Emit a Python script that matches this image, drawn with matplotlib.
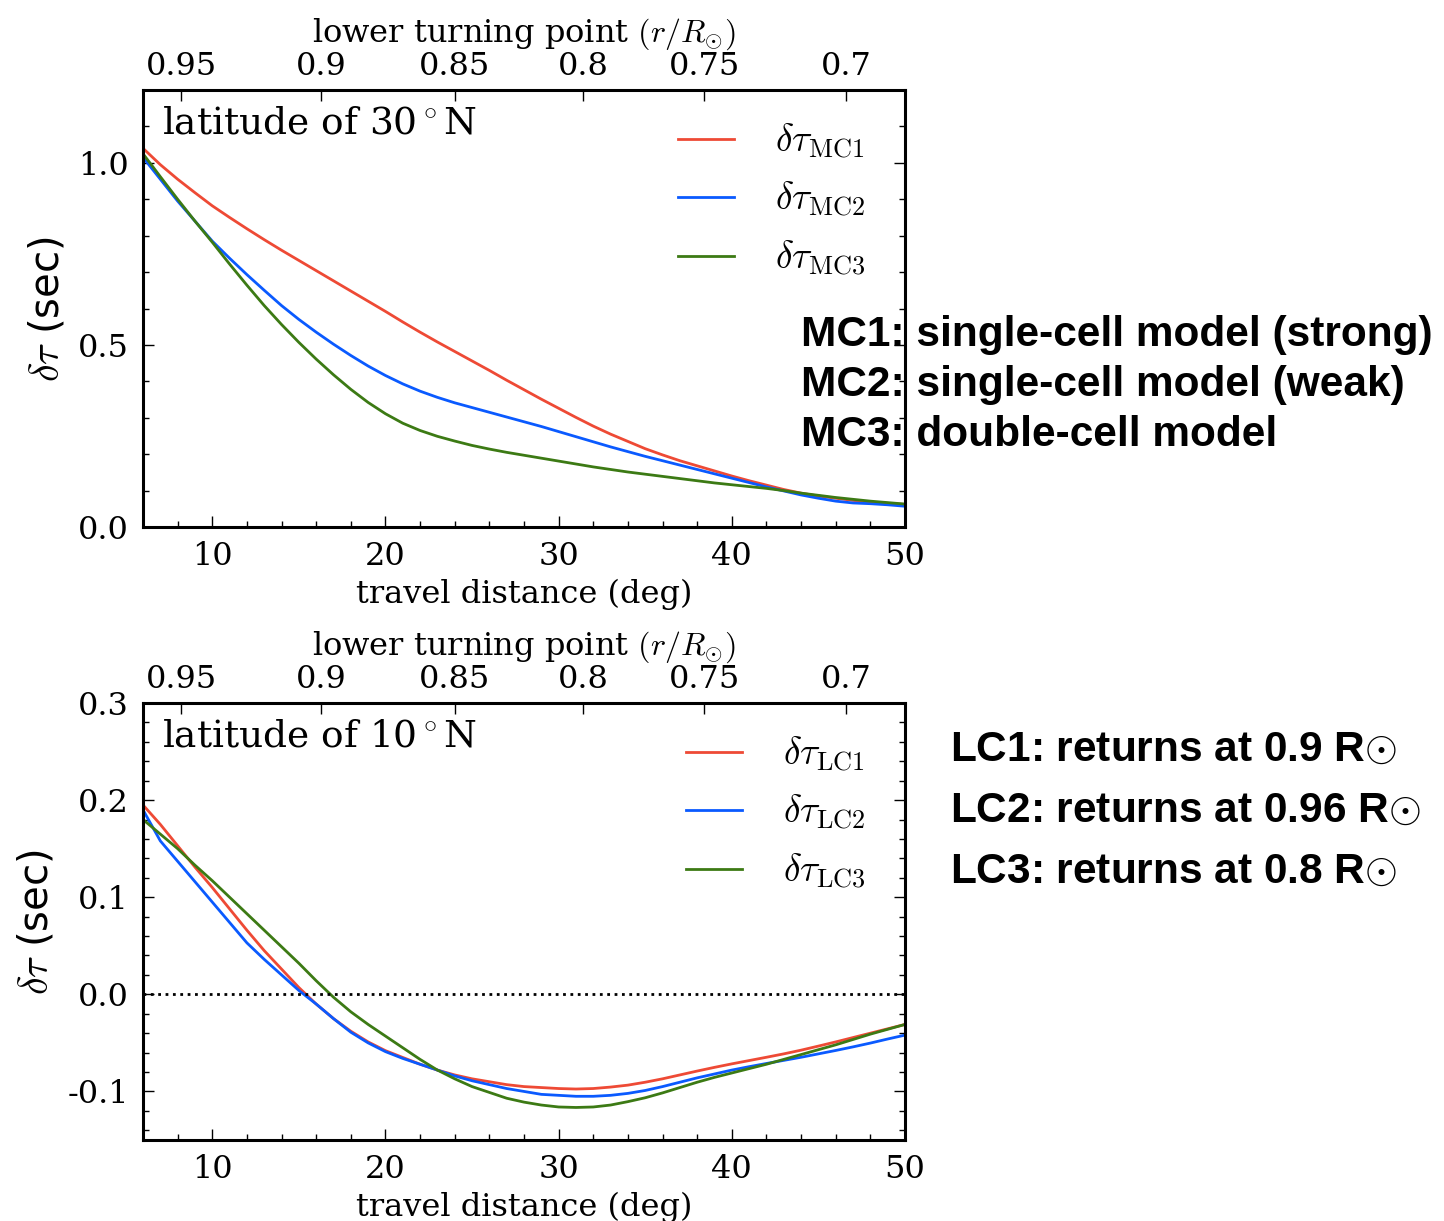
import matplotlib
matplotlib.use("Agg")
import matplotlib.pyplot as plt
from matplotlib.ticker import MultipleLocator

# Travel distance sample points (deg), one per degree
dist = list(range(6, 51))

# Travel-time differences at latitude 30N (sec)
tau_mc1 = [1.040, 0.995, 0.955, 0.918, 0.882, 0.850, 0.819, 0.789, 0.760, 0.732,
           0.704, 0.676, 0.648, 0.620, 0.592, 0.563, 0.535, 0.508, 0.482, 0.456,
           0.430, 0.403, 0.377, 0.351, 0.326, 0.301, 0.277, 0.255, 0.235, 0.215,
           0.198, 0.182, 0.168, 0.154, 0.140, 0.127, 0.115, 0.103, 0.093, 0.085,
           0.079, 0.073, 0.068, 0.065, 0.062]
tau_mc2 = [1.015, 0.955, 0.895, 0.840, 0.785, 0.738, 0.693, 0.650, 0.608, 0.570,
           0.535, 0.502, 0.471, 0.442, 0.416, 0.393, 0.373, 0.356, 0.341, 0.328,
           0.315, 0.302, 0.289, 0.276, 0.262, 0.248, 0.234, 0.220, 0.207, 0.194,
           0.182, 0.170, 0.158, 0.146, 0.134, 0.122, 0.110, 0.099, 0.088, 0.079,
           0.071, 0.066, 0.064, 0.061, 0.057]
tau_mc3 = [1.025, 0.962, 0.900, 0.840, 0.782, 0.722, 0.664, 0.608, 0.556, 0.507,
           0.461, 0.418, 0.378, 0.342, 0.311, 0.285, 0.265, 0.249, 0.236, 0.224,
           0.214, 0.205, 0.197, 0.189, 0.181, 0.173, 0.165, 0.158, 0.151, 0.145,
           0.139, 0.133, 0.127, 0.121, 0.116, 0.111, 0.106, 0.100, 0.093, 0.087,
           0.081, 0.076, 0.071, 0.067, 0.063]

# Travel-time differences at latitude 10N (sec)
tau_lc1 = [0.195, 0.175, 0.153, 0.131, 0.110, 0.088, 0.066, 0.045, 0.026, 0.007,
           -0.010, -0.025, -0.038, -0.049, -0.058, -0.065, -0.072, -0.078, -0.083,
           -0.087, -0.090, -0.093, -0.095, -0.096, -0.097, -0.0975, -0.097, -0.0955,
           -0.0935, -0.0905, -0.087, -0.083, -0.079, -0.0752, -0.0716, -0.0682,
           -0.0648, -0.0613, -0.0575, -0.0533, -0.049, -0.0445, -0.040, -0.0355,
           -0.031]
tau_lc2 = [0.190, 0.158, 0.137, 0.116, 0.095, 0.074, 0.053, 0.036, 0.020, 0.004,
           -0.010, -0.025, -0.039, -0.050, -0.059, -0.066, -0.072, -0.078, -0.084,
           -0.089, -0.093, -0.097, -0.100, -0.103, -0.104, -0.105, -0.105, -0.104,
           -0.102, -0.099, -0.095, -0.0905, -0.086, -0.082, -0.078, -0.0745,
           -0.0712, -0.068, -0.0648, -0.0613, -0.0578, -0.0541, -0.0502, -0.046,
           -0.042]
tau_lc3 = [0.180, 0.165, 0.150, 0.133, 0.117, 0.100, 0.083, 0.066, 0.049, 0.032,
           0.014, -0.003, -0.018, -0.031, -0.043, -0.055, -0.067, -0.078, -0.087,
           -0.095, -0.101, -0.107, -0.111, -0.114, -0.116, -0.1165, -0.116, -0.114,
           -0.1105, -0.1065, -0.1015, -0.096, -0.0905, -0.0855, -0.081, -0.0765,
           -0.072, -0.067, -0.062, -0.057, -0.052, -0.0465, -0.041, -0.036, -0.031]

# Lower turning point axis (position in deg -> r/Rsun label)
turning_deg = [8.2, 16.3, 24.0, 31.4, 38.4, 46.6]
turning_labels = ["0.95", "0.9", "0.85", "0.8", "0.75", "0.7"]

mc_notes = ["MC1: single-cell model (strong)",
            "MC2: single-cell model (weak)",
            "MC3: double-cell model"]
lc_notes = [r"LC1: returns at 0.9 R$\odot$",
            r"LC2: returns at 0.96 R$\odot$",
            r"LC3: returns at 0.8 R$\odot$"]

colors = ["#EE4A35", "#0A5AFF", "#3C7A14"]

plt.rcParams["font.family"] = "DejaVu Serif"
plt.rcParams["mathtext.fontset"] = "cm"
plt.rcParams["axes.unicode_minus"] = False

fig = plt.figure(figsize=(14.44, 12.21), dpi=100)
W, H = 1444.0, 1221.0


def make_axes(top_px, bottom_px):
    return fig.add_axes([143 / W, 1 - bottom_px / H, 762 / W, (bottom_px - top_px) / H])


def style_axes(ax, ymajor, yminor):
    ax.set_xlim(6, 50)
    ax.xaxis.set_major_locator(MultipleLocator(10))
    ax.xaxis.set_minor_locator(MultipleLocator(2))
    ax.yaxis.set_major_locator(MultipleLocator(ymajor))
    ax.yaxis.set_minor_locator(MultipleLocator(yminor))
    ax.tick_params(which="both", direction="in", top=False, right=True,
                   labelsize=23, width=1.0)
    ax.tick_params(which="major", length=8, pad=10)
    ax.tick_params(which="minor", length=4)
    for sp in ax.spines.values():
        sp.set_linewidth(2.2)
    ax.set_xlabel("travel distance (deg)", fontsize=23, labelpad=5)
    ax.set_ylabel(r"$\delta\tau$ (sec)", fontsize=29, family="DejaVu Sans",
                  labelpad=8)

    top = ax.twiny()
    top.set_xlim(ax.get_xlim())
    top.set_xticks(turning_deg)
    top.set_xticklabels(turning_labels)
    top.tick_params(direction="in", length=8, width=1.0, labelsize=23, pad=5.5)
    top.set_xlabel(r"lower turning point $(r/R_{\odot})$", fontsize=23,
                   labelpad=7)
    return top


legend_opts = dict(loc="upper right", bbox_to_anchor=(0.99, 1.0), frameon=False,
                   fontsize=27, handlelength=1.5, handletextpad=1.1,
                   labelspacing=0.5, borderaxespad=0.45)

# --- top panel: meridional circulation models ---
ax1 = make_axes(90, 527)
ax1.plot(dist, tau_mc1, color=colors[0], lw=2.0, label=r"$\delta\tau_{\rm MC1}$")
ax1.plot(dist, tau_mc2, color=colors[1], lw=2.0, label=r"$\delta\tau_{\rm MC2}$")
ax1.plot(dist, tau_mc3, color=colors[2], lw=2.0, label=r"$\delta\tau_{\rm MC3}$")
ax1.set_ylim(0, 1.2)
style_axes(ax1, 0.5, 0.1)
ax1.text(0.025, 0.965, r"latitude of 30$^\circ$N", transform=ax1.transAxes,
         fontsize=27, va="top", ha="left")
ax1.legend(**legend_opts)

# --- bottom panel: latitudinal return-flow models ---
ax2 = make_axes(703, 1140)
ax2.plot(dist, tau_lc1, color=colors[0], lw=2.0, label=r"$\delta\tau_{\rm LC1}$")
ax2.plot(dist, tau_lc2, color=colors[1], lw=2.0, label=r"$\delta\tau_{\rm LC2}$")
ax2.plot(dist, tau_lc3, color=colors[2], lw=2.0, label=r"$\delta\tau_{\rm LC3}$")
ax2.axhline(0, color="black", ls=":", lw=2)
ax2.set_ylim(-0.15, 0.3)
style_axes(ax2, 0.1, 0.02)
ax2.text(0.025, 0.965, r"latitude of 10$^\circ$N", transform=ax2.transAxes,
         fontsize=27, va="top", ha="left")
ax2.legend(**legend_opts)

# Model descriptions on the right
note_font = dict(fontsize=30.5, fontweight="bold",
                 family=["Liberation Sans", "DejaVu Sans"], va="center", ha="left")
for i, note in enumerate(mc_notes):
    fig.text(801 / W, 1 - (335 + 50 * i) / H, note, **note_font)
for i, note in enumerate(lc_notes):
    fig.text(950 / W, 1 - (750 + 61 * i) / H, note, **note_font)

fig.savefig("out.png", dpi=100)
